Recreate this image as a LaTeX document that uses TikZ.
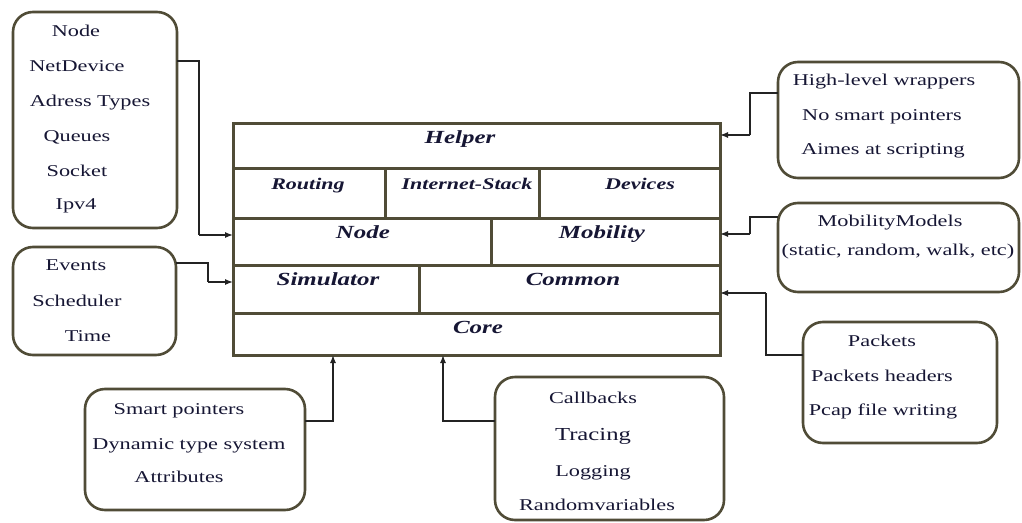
\documentclass[tikz,border=0pt]{standalone}
\usepackage{fontspec}
\setmainfont{Liberation Serif}[FakeStretch=1.35]
\usetikzlibrary{arrows.meta}
\definecolor{boxcol}{RGB}{80,76,55}
\definecolor{txtcol}{RGB}{22,22,52}
\definecolor{conncol}{RGB}{35,35,35}
\tikzset{
  cell/.style={draw=boxcol, line width=3pt, inner sep=0pt, outer sep=0pt, anchor=north west},
  rbox/.style={draw=boxcol, line width=2.6pt, rounded corners=20pt, inner sep=0pt, outer sep=0pt, anchor=north west},
  lbl/.style={anchor=base, inner sep=0pt, text=txtcol, font=\fontsize{18.5}{20}\selectfont\bfseries\itshape},
  lbls/.style={lbl, font=\fontsize{16.3}{18}\selectfont\bfseries\itshape},
  itm/.style={anchor=base, inner sep=0pt, text=txtcol, font=\fontsize{16.5}{18}\selectfont},
  conn/.style={draw=conncol, line width=1.3pt},
  arr/.style={conn, -{Latex[length=8pt,width=6pt]}}
}
\begin{document}
\begin{tikzpicture}[x=1pt,y=-1pt]
\useasboundingbox[fill=white] (0,0) rectangle (1022,522);
% central stack
\node[cell, minimum width=487pt, minimum height=45pt] (cHelper) at (233,123) {};
\node[cell, minimum width=152pt, minimum height=50pt] (cRouting) at (233,168) {};
\node[cell, minimum width=154pt, minimum height=50pt] (cInet) at (385,168) {};
\node[cell, minimum width=181pt, minimum height=50pt] (cDevices) at (539,168) {};
\node[cell, minimum width=258pt, minimum height=47pt] (cNode) at (233,218) {};
\node[cell, minimum width=229pt, minimum height=47pt] (cMobility) at (491,218) {};
\node[cell, minimum width=186pt, minimum height=48pt] (cSim) at (233,265) {};
\node[cell, minimum width=301pt, minimum height=48pt] (cCommon) at (419,265) {};
\node[cell, minimum width=487pt, minimum height=42pt] (cCore) at (233,313) {};
\node[lbl] (tHelper) at (460,143) {Helper};
\node[lbls] (tRouting) at (308,189) {Routing};
\node[lbls] (tInet) at (467,189) {Internet-Stack};
\node[lbls] (tDevices) at (640,189) {Devices};
\node[lbl] (tNode) at (363,238) {Node};
\node[lbl] (tMobility) at (602,238) {Mobility};
\node[lbl] (tSim) at (328,285.5) {Simulator};
\node[lbl] (tCommon) at (573,285.5) {Common};
\node[lbl] (tCore) at (478,333) {Core};
% left boxes
\node[rbox, minimum width=164pt, minimum height=216pt] (b1) at (13,12) {};
\node[itm] (i11) at (76,36) {Node};
\node[itm] (i12) at (77,71) {NetDevice};
\node[itm] (i13) at (90,106) {Adress Types};
\node[itm] (i14) at (77,141) {Queues};
\node[itm] (i15) at (77,176) {Socket};
\node[itm] (i16) at (76,209) {Ipv4};
\node[rbox, minimum width=163pt, minimum height=108pt] (b2) at (13,247) {};
\node[itm] (i21) at (76,270.5) {Events};
\node[itm] (i22) at (77,306.5) {Scheduler};
\node[itm] (i23) at (88,341.5) {Time};
% right boxes
\node[rbox, minimum width=241pt, minimum height=116pt] (rA) at (778,62) {};
\node[itm] (iA1) at (884,85.5) {High-level wrappers};
\node[itm] (iA2) at (882,120.5) {No smart pointers};
\node[itm] (iA3) at (883,154.3) {Aimes at scripting};
\node[rbox, minimum width=241pt, minimum height=89pt] (rB) at (778,203) {};
\node[itm] (iB1) at (890,226) {MobilityModels};
\node[itm] (iB2) at (898,255.5) {(static, random, walk, etc)};
\node[rbox, minimum width=194pt, minimum height=121pt] (rC) at (803,322) {};
\node[itm] (iC1) at (882,346) {Packets};
\node[itm] (iC2) at (882,381.5) {Packets headers};
\node[itm] (iC3) at (883,415) {Pcap file writing};
% bottom boxes
\node[rbox, minimum width=220pt, minimum height=121pt] (bD) at (85,389) {};
\node[itm] (iD1) at (179,414) {Smart pointers};
\node[itm] (iD2) at (189,449.3) {Dynamic type system};
\node[itm] (iD3) at (179,482.7) {Attributes};
\node[rbox, minimum width=229pt, minimum height=143pt] (bE) at (495,377) {};
\node[itm] (iE1) at (593,403.3) {Callbacks};
\node[itm, font=\fontsize{18.3}{20}\selectfont] (iE2) at (593,440.7) {Tracing};
\node[itm] (iE3) at (593,476.7) {Logging};
\node[itm] (iE4) at (597,510.7) {Randomvariables};
% connectors
\coordinate (k1) at (199,235);
\coordinate (k2) at (208,282);
\coordinate (k3) at (750,135);
\coordinate (k4) at (750,234);
\coordinate (k5) at (766,293);
\coordinate (k6) at (333,421);
\coordinate (k7) at (443,421);
\draw[conn] ([yshift=-49pt]b1.north east) -| (k1);
\draw[arr] (k1) -- (cNode.west |- k1);
\draw[conn] ([yshift=-16pt]b2.north east) -| (k2);
\draw[arr] (k2) -- (cSim.west |- k2);
\draw[conn] ([yshift=-31pt]rA.north west) -| (k3);
\draw[arr] (k3) -- (cHelper.east |- k3);
\draw[conn] ([yshift=-14pt]rB.north west) -| (k4);
\draw[arr] (k4) -- (cMobility.east |- k4);
\draw[conn] ([yshift=-33pt]rC.north west) -| (k5);
\draw[arr] (k5) -- (cCommon.east |- k5);
\draw[arr] ([yshift=-32pt]bD.north east) -| (cCore.south -| k6);
\draw[arr] ([yshift=-44pt]bE.north west) -| (cCore.south -| k7);
\end{tikzpicture}
\end{document}
